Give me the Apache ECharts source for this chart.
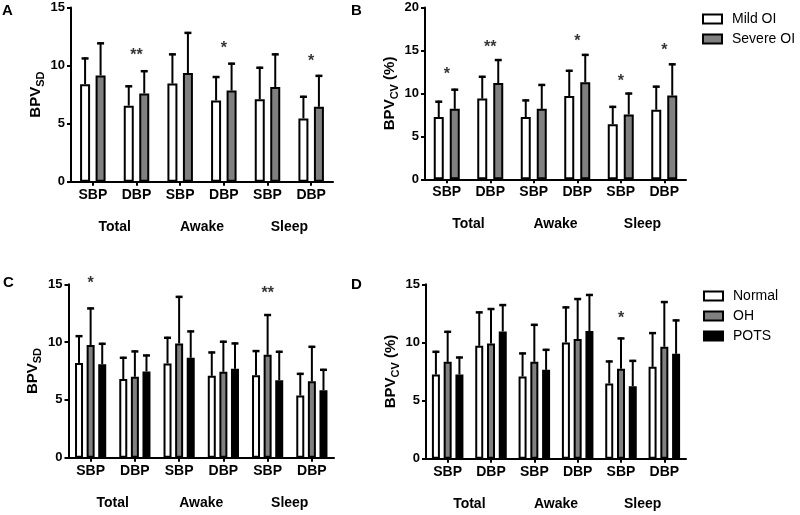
<!DOCTYPE html>
<html><head><meta charset="utf-8">
<script src="https://cdn.jsdelivr.net/npm/echarts@6/dist/echarts.min.js"></script>
<style>html,body{margin:0;padding:0;background:#fff}#c{width:800px;height:515px}</style>
</head><body><div id="c"></div>
<script>
// ---- data ----
const categories = ['SBP', 'DBP', 'SBP', 'DBP', 'SBP', 'DBP'];
const groupLabels = ['Total', 'Awake', 'Sleep'];
const yTickMaxSD = 15, yTickMaxCV_B = 20, yTickMaxCV_D = 15, yTickStep = 5;

// Panel A: BPV SD, Mild vs Severe OI
const A_mild = [8.4, 6.55, 8.45, 7.0, 7.1, 5.45];
const A_mild_sd = [2.3, 1.75, 2.6, 2.1, 2.8, 1.95];
const A_severe = [9.15, 7.6, 9.35, 7.85, 8.15, 6.45];
const A_severe_sd = [2.85, 2.0, 3.55, 2.4, 2.9, 2.75];
const A_starCat = [1, 3, 5];
const A_starY = [11.2, 11.8, 10.7];
const A_starTxt = ['**', '*', '*'];

// Panel B: BPV CV, Mild vs Severe OI
const B_mild = [7.25, 9.4, 7.25, 9.7, 6.4, 8.1];
const B_mild_sd = [1.9, 2.65, 2.05, 3.05, 2.15, 2.8];
const B_severe = [8.2, 11.2, 8.2, 11.3, 7.55, 9.75];
const B_severe_sd = [2.35, 2.8, 2.9, 3.3, 2.55, 3.75];
const B_starCat = [0, 1, 3, 4, 5];
const B_starY = [12.6, 15.8, 16.5, 11.8, 15.4];
const B_starTxt = ['*', '**', '*', '*', '*'];

// Panel C: BPV SD, Normal / OH / POTS
const C_normal = [8.2, 6.8, 8.15, 7.08, 7.14, 5.38];
const C_normal_sd = [2.4, 1.93, 2.31, 2.11, 2.17, 1.96];
const C_oh = [9.75, 7.0, 9.88, 7.43, 8.9, 6.62];
const C_oh_sd = [3.25, 2.28, 4.12, 2.69, 3.53, 3.06];
const C_pots = [8.09, 7.46, 8.64, 7.69, 6.71, 5.84];
const C_pots_sd = [1.85, 1.47, 2.37, 2.28, 2.54, 1.85];
const C_starCat = [0, 4];
const C_starY = [15.4, 14.5];
const C_starTxt = ['*', '**'];

// Panel D: BPV CV, Normal / OH / POTS
const D_normal = [7.24, 9.71, 7.07, 10.0, 6.47, 7.9];
const D_normal_sd = [2.04, 2.96, 2.07, 3.1, 1.98, 2.99];
const D_oh = [8.33, 9.91, 8.33, 10.29, 7.73, 9.63];
const D_oh_sd = [2.67, 3.05, 3.27, 3.53, 2.7, 3.93];
const D_pots = [7.24, 10.95, 7.64, 10.98, 6.24, 9.02];
const D_pots_sd = [1.55, 2.35, 1.81, 3.19, 2.26, 2.96];
const D_starCat = [4];
const D_starY = [12.4];
const D_starTxt = ['*'];

const seriesNamesOI = ['Mild OI', 'Severe OI'];
const seriesNamesHemo = ['Normal', 'OH', 'POTS'];

// ---- styling / layout ----
const FONT = '"Liberation Sans", Arial, sans-serif';
const FILLS = ['#ffffff', '#808080', '#000000'];

const grids = [], xAxes = [], yAxes = [], series = [];

function yNameRich() {
  return {
    fontFamily: FONT, color: '#000',
    rich: {
      a: {fontSize: 15, fontWeight: 'bold', fontFamily: FONT, color: '#000', padding: [0, 0, 3, 0]},
      b: {fontSize: 11, fontWeight: 'bold', fontFamily: FONT, color: '#000', verticalAlign: 'bottom'}
    }
  };
}

function addPanel(idx, box, yMax, yName, names, means, sds, starCat, starY, starTxt, barW, gapPct) {
  grids.push({left: box[0], top: box[1], width: box[2], height: box[3]});
  const xi = xAxes.length;
  xAxes.push({
    gridIndex: idx, type: 'category', data: categories,
    axisLine: {show: true, lineStyle: {color: '#000', width: 2}},
    axisTick: {show: true, alignWithLabel: true, length: 4, lineStyle: {color: '#000', width: 2}},
    axisLabel: {color: '#000', fontSize: 14, fontWeight: 'bold', fontFamily: FONT, margin: 6},
    splitLine: {show: false}
  });
  xAxes.push({
    gridIndex: idx, type: 'category', data: groupLabels, position: 'bottom', offset: 31,
    axisLine: {show: false}, axisTick: {show: false},
    axisLabel: {color: '#000', fontSize: 14, fontWeight: 'bold', fontFamily: FONT, margin: 7},
    splitLine: {show: false}
  });
  yAxes.push({
    gridIndex: idx, type: 'value', min: 0, max: yMax, interval: yTickStep,
    name: yName, nameLocation: 'middle', nameGap: 25, nameTextStyle: yNameRich(),
    axisLine: {show: true, lineStyle: {color: '#000', width: 2}},
    axisTick: {show: true, length: 4, lineStyle: {color: '#000', width: 2}},
    axisLabel: {color: '#000', fontSize: 13, fontWeight: 'bold', fontFamily: FONT, margin: 6},
    splitLine: {show: false}
  });
  const n = names.length;
  const pitch = barW * (1 + gapPct / 100);
  names.forEach((nm, i) => {
    series.push({
      type: 'bar', name: nm, xAxisIndex: xi, yAxisIndex: idx,
      data: means[i], barWidth: barW, barGap: gapPct + '%',
      itemStyle: {color: FILLS[i], borderColor: '#000', borderWidth: 2},
      z: 2, animation: false
    });
    const off = (i - (n - 1) / 2) * pitch;
    series.push({
      type: 'custom', name: nm + ' SD', xAxisIndex: xi, yAxisIndex: idx,
      data: means[i].map((m, k) => [k, m, sds[i][k]]),
      renderItem: function (params, api) {
        const c = api.value(0), m = api.value(1), s = api.value(2);
        const p0 = api.coord([c, m]);
        const p1 = api.coord([c, m + s]);
        const x = p0[0] + off;
        return {
          type: 'group', children: [
            {type: 'line', shape: {x1: x, y1: p0[1], x2: x, y2: p1[1]}, style: {stroke: '#000', lineWidth: 2}},
            {type: 'line', shape: {x1: x - 3.5, y1: p1[1] + 1, x2: x + 3.5, y2: p1[1] + 1}, style: {stroke: '#000', lineWidth: 2.5}}
          ]
        };
      },
      z: 3, animation: false, silent: true
    });
  });
  series.push({
    type: 'scatter', name: 'sig' + idx, xAxisIndex: xi, yAxisIndex: idx,
    data: starCat.map((c, k) => [c, starY[k]]),
    symbolSize: 0.1, itemStyle: {color: 'rgba(0,0,0,0)'}, clip: false, silent: true,
    label: {show: true, position: 'inside', formatter: p => starTxt[p.dataIndex],
      fontSize: 16, fontWeight: 'bold', fontFamily: FONT, color: '#000', offset: [0, 4]},
    z: 4, animation: false
  });
}

addPanel(0, [71, 7.5, 262, 174.2], yTickMaxSD, '{a|BPV}{b|SD}', seriesNamesOI,
  [A_mild, A_severe], [A_mild_sd, A_severe_sd], A_starCat, A_starY, A_starTxt, 10, 55);
addPanel(1, [425, 7.5, 261, 171.8], yTickMaxCV_B, '{a|BPV}{b|CV}{a| (%)}', seriesNamesOI,
  [B_mild, B_severe], [B_mild_sd, B_severe_sd], B_starCat, B_starY, B_starTxt, 10, 60);
addPanel(2, [68.5, 284.3, 265.5, 173.4], yTickMaxSD, '{a|BPV}{b|SD}', seriesNamesHemo,
  [C_normal, C_oh, C_pots], [C_normal_sd, C_oh_sd, C_pots_sd], C_starCat, C_starY, C_starTxt, 8, 45);
addPanel(3, [426, 284.3, 260, 174.4], yTickMaxCV_D, '{a|BPV}{b|CV}{a| (%)}', seriesNamesHemo,
  [D_normal, D_oh, D_pots], [D_normal_sd, D_oh_sd, D_pots_sd], D_starCat, D_starY, D_starTxt, 8, 47);

function legendData(names) {
  return names.map((nm, i) => ({name: nm, icon: 'rect',
    itemStyle: {color: FILLS[i], borderColor: '#000', borderWidth: 2}}));
}
const legendCommon = {
  orient: 'vertical', itemWidth: 19, itemHeight: 9, itemGap: 6, padding: 0,
  selectedMode: false,
  textStyle: {fontSize: 14, fontFamily: FONT, color: '#000', padding: [0, 0, 0, 5]}
};

const panelLetters = ['A', 'B', 'C', 'D'];
const letterPos = [[2, 3], [351, 3], [3, 275], [351, 277]];

const option = {
  backgroundColor: '#fff',
  animation: false,
  grid: grids, xAxis: xAxes, yAxis: yAxes, series: series,
  legend: [
    Object.assign({left: 702, top: 12, data: legendData(seriesNamesOI)}, legendCommon),
    Object.assign({left: 703, top: 289, data: legendData(seriesNamesHemo)}, legendCommon)
  ],
  graphic: panelLetters.map((t, i) => ({
    type: 'text', left: letterPos[i][0], top: letterPos[i][1],
    style: {text: t, font: 'bold 15px ' + FONT, fill: '#000'}
  }))
};

const chart = echarts.init(document.getElementById('c'));
chart.setOption(option);
</script>
</body></html>
